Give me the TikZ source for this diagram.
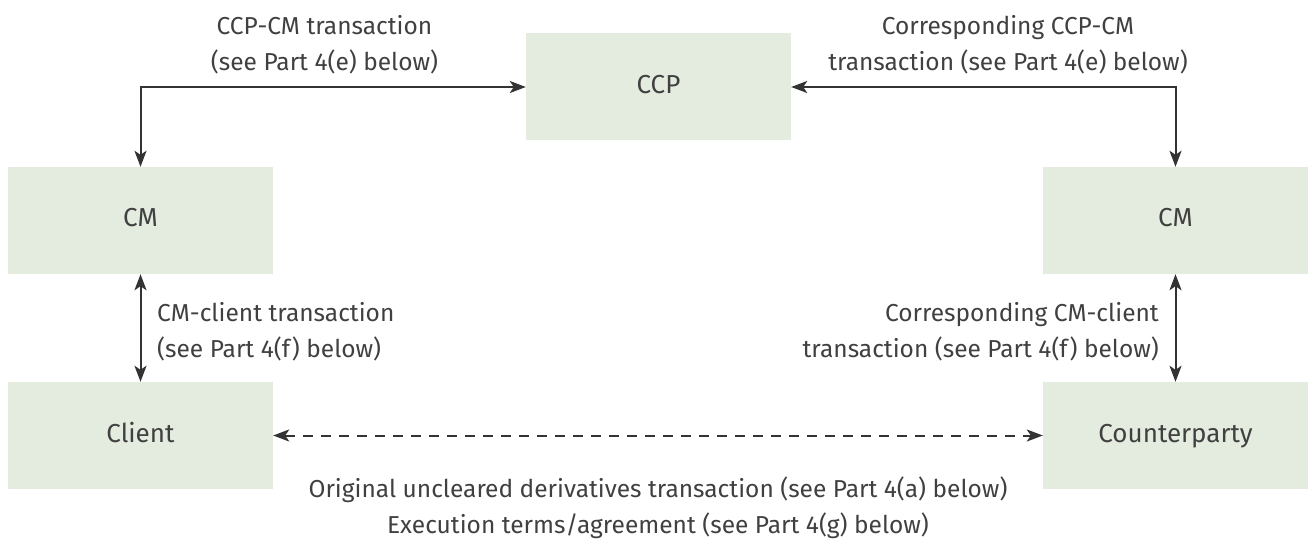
\documentclass[tikz,border=0pt]{standalone}
\usepackage{fontspec}
\setmainfont{Fira Sans}
\usetikzlibrary{arrows.meta}
\definecolor{boxfill}{HTML}{E4ECDF}
\definecolor{txt}{HTML}{404040}
\definecolor{arr}{HTML}{333333}
\begin{document}
\begin{tikzpicture}[x=1pt,y=-1pt,
  every node/.style={font=\fontsize{24.5}{36}\selectfont, text=txt, inner sep=0pt},
  entity/.style={fill=boxfill, draw=none, minimum width=265pt, minimum height=107pt,
    font=\fontsize{26}{30}\selectfont, text height=18pt, text depth=5pt},
  conn/.style={draw=arr, line width=2pt, {Stealth[length=16pt,width=12pt,inset=4pt]}-{Stealth[length=16pt,width=12pt,inset=4pt]}},
  dashconn/.style={conn, dash pattern=on 10pt off 8pt},
  lbl/.style={align=center}]
\useasboundingbox (0,0) rectangle (1309,540);
\node[entity] (ccp) at (658.5,87) {CCP};
\node[entity] (cml) at (140.5,220.5) {CM};
\node[entity] (cmr) at (1175.5,220.5) {CM};
\node[entity] (cli) at (140.5,435.5) {Client};
\node[entity] (cpt) at (1175.5,435.5) {Counterparty};
\coordinate (tl) at (cml.north |- ccp.west);
\coordinate (tr) at (cmr.north |- ccp.east);
\draw[conn] (ccp.west) -- (tl) -- (cml.north);
\draw[conn] (ccp.east) -- (tr) -- (cmr.north);
\draw[conn] (cml.south) -- (cli.north);
\draw[conn] (cmr.south) -- (cpt.north);
\draw[dashconn] (cli.east) -- (cpt.west);
\node[lbl] (l1) at (324.5,45) {CCP-CM transaction\\(see Part 4(e) below)};
\node[lbl] (l2) at (1008,45) {Corresponding CCP-CM\\transaction (see Part 4(e) below)};
\node[align=left, anchor=west] (l3) at (157,332) {CM-client transaction\\(see Part 4(f) below)};
\node[align=right, anchor=east] (l4) at (1159,332) {Corresponding CM-client\\transaction (see Part 4(f) below)};
\node[lbl] (l5) at (658,508) {Original uncleared derivatives transaction (see Part 4(a) below)\\Execution terms/agreement (see Part 4(g) below)};
\end{tikzpicture}
\end{document}
